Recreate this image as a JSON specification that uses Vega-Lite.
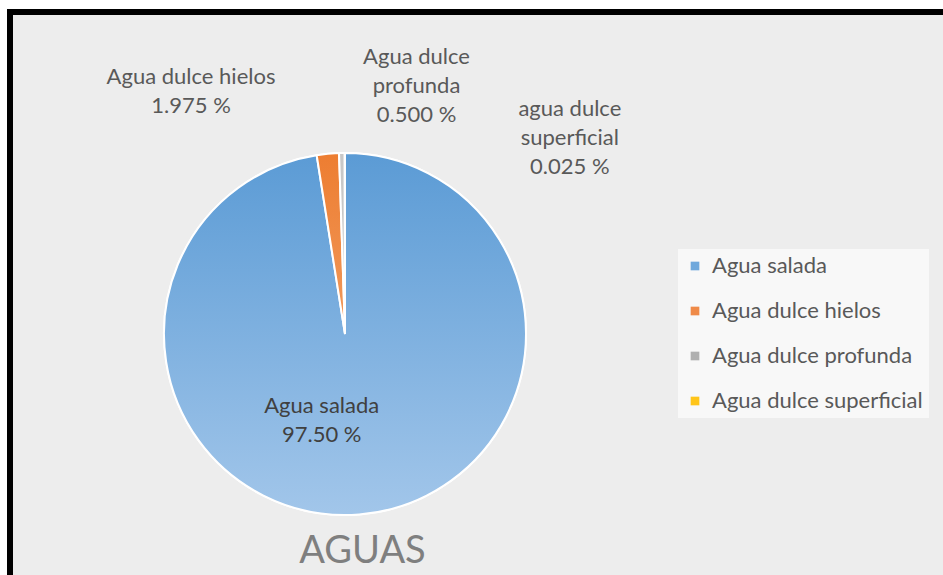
{
  "$schema": "https://vega.github.io/schema/vega-lite/v6.json",
  "autosize": {"type": "fit", "contains": "padding"},
  "width": 943,
  "height": 575,
  "padding": {"left": 10, "top": 12, "right": -10, "bottom": -10},
  "background": "white",
  "config": {
    "view": {"stroke": "black", "strokeWidth": 6, "fill": "#ededed"},
    "font": "Lato"
  },
  "title": {
    "text": "AGUAS",
    "orient": "top",
    "anchor": "middle",
    "frame": "group",
    "font": "Lato",
    "fontSize": 38,
    "fontWeight": "normal",
    "color": "#7f7f7f",
    "baseline": "middle",
    "offset": 0,
    "dx": -119,
    "dy": 578
  },
  "data": {
    "values": [
      {"cat": "Agua salada", "pct": 97.5, "ord": 1, "label": "Agua salada|97.50 %"},
      {"cat": "Agua dulce hielos", "pct": 1.975, "ord": 2, "label": "Agua dulce hielos|1.975 %"},
      {"cat": "Agua dulce profunda", "pct": 0.5, "ord": 3, "label": "Agua dulce|profunda|0.500 %"},
      {"cat": "Agua dulce superficial", "pct": 0.025, "ord": 4, "label": "agua dulce|superficial|0.025 %"}
    ]
  },
  "layer": [
    {
      "mark": {"type": "arc", "outerRadius": 181, "stroke": "white", "strokeWidth": 2},
      "encoding": {
        "theta": {"field": "pct", "type": "quantitative", "stack": true},
        "order": {"field": "ord", "type": "quantitative"},
        "x": {"value": 335},
        "y": {"value": 322},
        "color": {
          "field": "cat",
          "type": "nominal",
          "sort": ["Agua salada", "Agua dulce hielos", "Agua dulce profunda", "Agua dulce superficial"],
          "scale": {
            "domain": ["Agua salada", "Agua dulce hielos", "Agua dulce profunda", "Agua dulce superficial"],
            "range": ["#6fa8dc", "#ef8a48", "#b0b0b0", "#ffc519"]
          },
          "legend": {
            "title": null,
            "orient": "none",
            "legendX": 668,
            "legendY": 237,
            "symbolType": "square",
            "symbolSize": 75,
            "symbolStrokeWidth": 0,
            "labelFont": "Lato",
            "labelFontSize": 22,
            "labelColor": "#595959",
            "labelOffset": 6,
            "labelLimit": 400,
            "rowPadding": 23,
            "padding": 6,
            "fillColor": "#f8f8f8"
          }
        }
      }
    },
    {
      "mark": {"type": "arc", "outerRadius": 181, "stroke": "white", "strokeWidth": 2},
      "encoding": {
        "theta": {"field": "pct", "type": "quantitative", "stack": true},
        "order": {"field": "ord", "type": "quantitative"},
        "x": {"value": 335},
        "y": {"value": 322},
        "fill": {
          "condition": [
            {
              "test": "datum.cat === 'Agua salada'",
              "value": {
                "gradient": "linear", "x1": 0, "y1": 0, "x2": 0, "y2": 1,
                "stops": [{"offset": 0, "color": "#5b9bd5"}, {"offset": 1, "color": "#a2c6ea"}]
              }
            },
            {
              "test": "datum.cat === 'Agua dulce hielos'",
              "value": {
                "gradient": "linear", "x1": 0, "y1": 0, "x2": 0, "y2": 1,
                "stops": [{"offset": 0, "color": "#ed7d31"}, {"offset": 1, "color": "#f19a5c"}]
              }
            },
            {
              "test": "datum.cat === 'Agua dulce profunda'",
              "value": "#c8c8c8"
            }
          ],
          "value": "#ffc000"
        }
      }
    },
    {
      "mark": {
        "type": "text",
        "font": "Lato",
        "fontSize": 22,
        "lineBreak": "|",
        "lineHeight": 29,
        "align": "center",
        "baseline": "middle",
        "dx": {"expr": "datum.cat === 'Agua salada' ? -39 : datum.cat === 'Agua dulce hielos' ? -135 : datum.cat === 'Agua dulce profunda' ? 75 : 225"},
        "dy": {"expr": "datum.cat === 'Agua salada' ? -127 : datum.cat === 'Agua dulce hielos' ? -58 : datum.cat === 'Agua dulce profunda' ? -77 : -25"}
      },
      "encoding": {
        "theta": {"field": "pct", "type": "quantitative", "stack": true},
        "order": {"field": "ord", "type": "quantitative"},
        "radius": {"value": 200},
        "x": {"value": 335},
        "y": {"value": 322},
        "text": {"field": "label", "type": "nominal"},
        "color": {
          "condition": {"test": "datum.cat === 'Agua salada'", "value": "#404040"},
          "value": "#595959"
        }
      }
    }
  ]
}
